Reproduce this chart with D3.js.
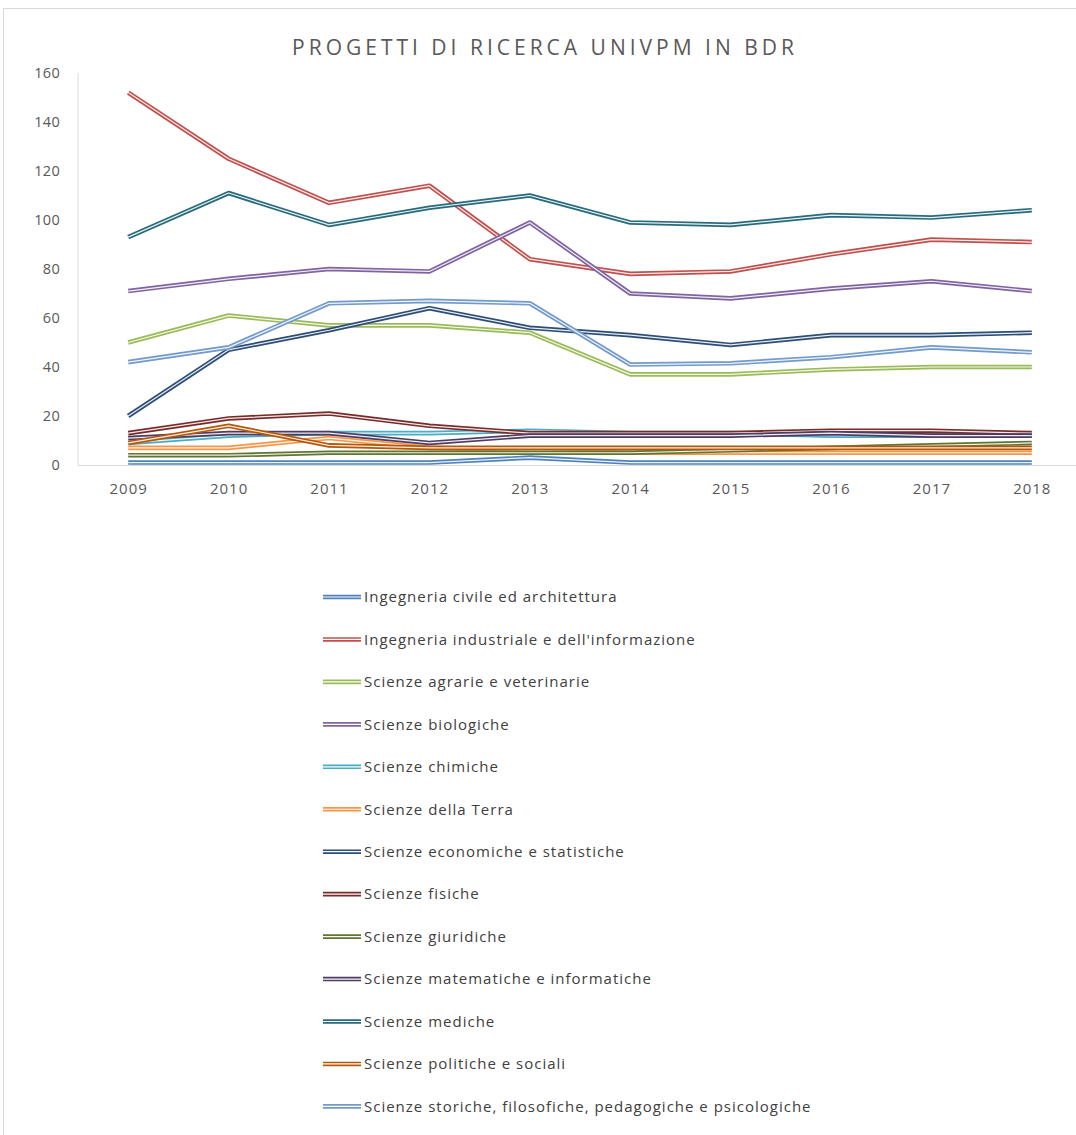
<!DOCTYPE html>
<html><head><meta charset="utf-8">
<script src="https://cdn.jsdelivr.net/npm/d3@7"></script>
<style>
html,body{margin:0;padding:0;background:#fff;}
svg{display:block;font-family:"Open Sans",sans-serif;}
</style></head>
<body>
<svg id="chart" width="1076" height="1135"></svg>
<script>
const years = [2009,2010,2011,2012,2013,2014,2015,2016,2017,2018];
const yTicks = [0,20,40,60,80,100,120,140,160];
const title = "PROGETTI DI RICERCA UNIVPM IN BDR";

const seriesNames = [
  "Ingegneria civile ed architettura",
  "Ingegneria industriale e dell'informazione",
  "Scienze agrarie e veterinarie",
  "Scienze biologiche",
  "Scienze chimiche",
  "Scienze della Terra",
  "Scienze economiche e statistiche",
  "Scienze fisiche",
  "Scienze giuridiche",
  "Scienze matematiche e informatiche",
  "Scienze mediche",
  "Scienze politiche e sociali",
  "Scienze storiche, filosofiche, pedagogiche e psicologiche"
];
const seriesColors = ["#4F81BD","#C0504D","#9BBB59","#8064A2","#4BACC6","#F79646",
  "#2C4D75","#772C2A","#5F7530","#4D3B62","#276A7C","#B65708","#729ACA"];

const ingCivile      = [1,1,1,1,3,1,1,1,1,1];
const ingIndustriale = [152,125,107,114,84,78,79,86,92,91];
const agrarie        = [50,61,57,57,54,37,37,39,40,40];
const biologiche     = [71,76,80,79,99,70,68,72,75,71];
const chimiche       = [9,12,13,13,14,13,13,12,12,12];
const terra          = [7,7,11,7,6,5,5,5,5,5];
const economiche     = [20,47,55,64,56,53,49,53,53,54];
const fisiche        = [13,19,21,16,13,13,13,14,14,13];
const giuridiche     = [4,4,5,5,5,5,6,7,8,9];
const matematiche    = [11,13,13,9,12,12,12,13,12,12];
const mediche        = [93,111,98,105,110,99,98,102,101,104];
const politiche      = [9,16,8,7,7,7,7,7,7,7];
const storiche       = [42,48,66,67,66,41,41.5,44,48,46];

const seriesValues = [ingCivile,ingIndustriale,agrarie,biologiche,chimiche,terra,
  economiche,fisiche,giuridiche,matematiche,mediche,politiche,storiche];

const svg = d3.select("#chart");

// chart border
svg.append("rect").attr("x",3.5).attr("y",8.5).attr("width",1100).attr("height",1140)
  .attr("fill","none").attr("stroke","#d9d9d9").attr("stroke-width",1);

const x = d3.scalePoint().domain(years).range([78,1082]).padding(0.5);
const y = d3.scaleLinear().domain([0,160]).range([465,73]);

// title
svg.append("text").attr("x",545).attr("y",55).attr("text-anchor","middle")
  .attr("font-size",21).attr("letter-spacing",4).attr("fill","#595959")
  .text(title);

// axes lines
svg.append("line").attr("x1",78).attr("x2",78).attr("y1",y(160)).attr("y2",y(0))
  .attr("stroke","#d9d9d9");
svg.append("line").attr("x1",78).attr("x2",1076).attr("y1",y(0)+0.5).attr("y2",y(0)+0.5)
  .attr("stroke","#d9d9d9");

// y tick labels
const yAxis = d3.axisLeft(y).tickValues(yTicks).tickSize(0).tickPadding(0);
const gy = svg.append("g").attr("transform","translate(60,0)").call(yAxis);
gy.select(".domain").remove();
gy.selectAll("text").attr("font-size",14.5).attr("letter-spacing",0.3).attr("fill","#595959").attr("font-family","Open Sans");

// x tick labels
const xAxis = d3.axisBottom(x).tickSize(0).tickPadding(0);
const gx = svg.append("g").attr("transform","translate(0,483)").call(xAxis);
gx.select(".domain").remove();
gx.selectAll("text").attr("font-size",15).attr("letter-spacing",1).attr("fill","#595959").attr("font-family","Open Sans");

// lines (double-line style)
const line = d3.line().x((d,i)=>x(years[i])).y(d=>y(d));
const gl = svg.append("g");
seriesValues.forEach((vals,k)=>{
  gl.append("path").attr("d",line(vals)).attr("fill","none")
    .attr("stroke",seriesColors[k]).attr("stroke-width",4.6).attr("stroke-linejoin","round");
  gl.append("path").attr("d",line(vals)).attr("fill","none")
    .attr("stroke","#ffffff").attr("stroke-width",1.2).attr("stroke-opacity",0.9).attr("stroke-linejoin","round");
});

// legend
const lg = svg.append("g");
seriesNames.forEach((name,k)=>{
  const yy = 597 + k*42.45;
  lg.append("line").attr("x1",323).attr("x2",361).attr("y1",yy).attr("y2",yy)
    .attr("stroke",seriesColors[k]).attr("stroke-width",4.6);
  lg.append("line").attr("x1",323).attr("x2",361).attr("y1",yy).attr("y2",yy)
    .attr("stroke","#fff").attr("stroke-width",1.2);
  lg.append("text").attr("x",364).attr("y",yy).attr("dy","0.35em")
    .attr("font-size",15).attr("letter-spacing",1).attr("fill","#404040").text(name);
});
</script>
</body></html>
